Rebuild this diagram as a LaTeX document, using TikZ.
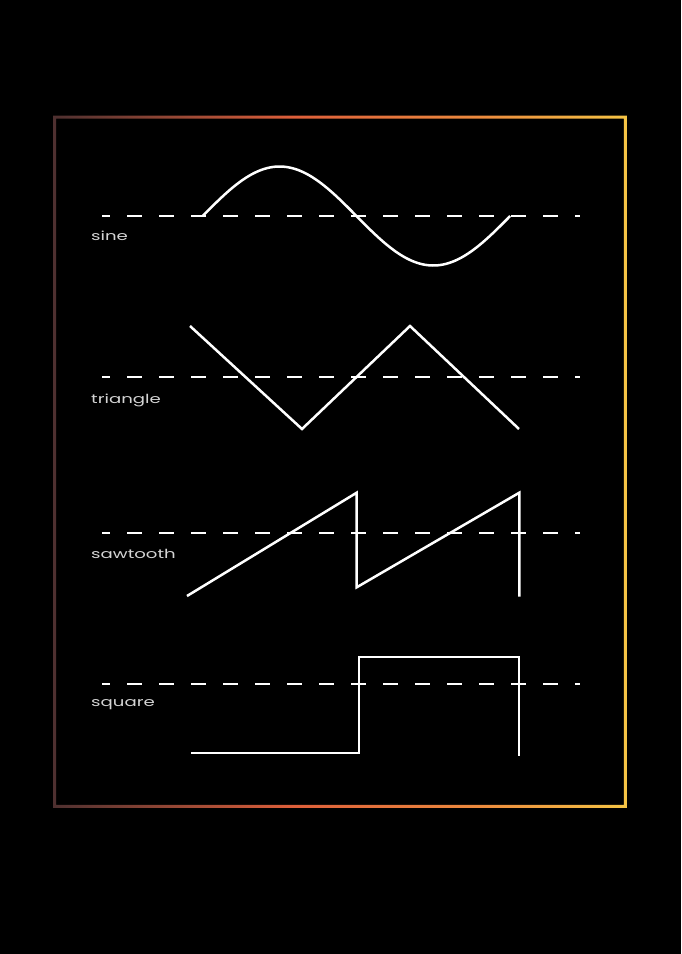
\documentclass[tikz,border=0pt]{standalone}
\usepackage{fontspec}
\newfontfamily\labfont[FakeStretch=1.45]{Poppins}
\definecolor{fl}{HTML}{4E3030}
\definecolor{fm}{HTML}{DE5F3A}
\definecolor{fo}{HTML}{EC8A3E}
\definecolor{fr}{HTML}{F5C445}
\definecolor{labgray}{HTML}{D4D4D4}
\pgfdeclarehorizontalshading{frameshade}{100bp}{color(0bp)=(fl); color(25bp)=(fl); color(46bp)=(fm); color(62bp)=(fo); color(75bp)=(fr); color(100bp)=(fr)}
\begin{document}
\begin{tikzpicture}[x=1pt,y=-1pt,
  wave/.style={white, line width=2.5pt, line join=miter},
  axisline/.style={white, line width=2.9pt, dash pattern=on 14.5pt off 17.5pt, dash phase=7pt},
  lab/.style={anchor=base west, inner sep=0pt, text=labgray, font=\labfont\fontsize{12.5}{14}\selectfont}]
\fill[black] (0,0) rectangle (681,954);
\useasboundingbox (0,0) rectangle (681,954);
% frame
\shade[shading=frameshade, even odd rule] (53,115.5) rectangle (626.8,807.8) (56,118.5) rectangle (623.8,804.8);
% axes
\foreach \yy/\nm in {216/sine, 377/tri, 533/saw, 684/sq} {
  \coordinate (\nm-a) at (102,\yy);
  \coordinate (\nm-b) at (580,\yy);
  \draw[axisline] (\nm-a) -- (\nm-b);
}
% sine
\draw[wave] plot[domain=0:360, samples=120, smooth] ({202.7 + \x/360*307.5}, {216 - 49.5*sin(\x)});
% triangle
\draw[wave] (190,326) -- (302,429) -- (410,326) -- (519,429);
% sawtooth
\draw[wave] (187,596) -- (356.7,492.7) -- (356.7,587.3) -- (519.3,492.7) -- (519.3,596.7);
% square
\draw[wave] (191,753) -- (359,753) -- (359,657) -- (519,657) -- (519,756);
% labels
\node[lab] (l-sine) at (91,240.5) {sine};
\node[lab] (l-tri) at (91,403) {triangle};
\node[lab] (l-saw) at (91,558) {sawtooth};
\node[lab] (l-sq) at (91,706) {square};
\end{tikzpicture}
\end{document}
